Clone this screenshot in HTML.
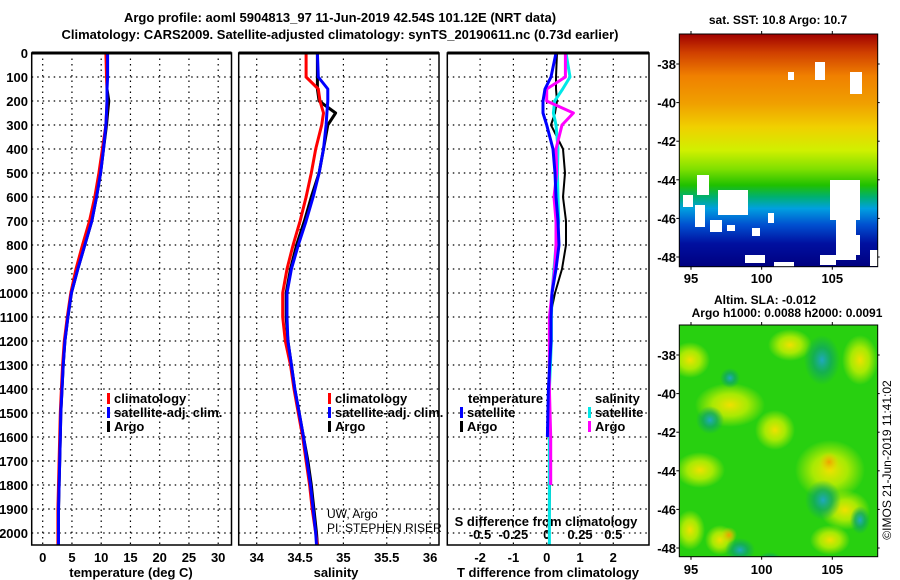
<!DOCTYPE html>
<html><head><meta charset="utf-8"><style>
body{margin:0;background:#fff;}
svg{display:block;font-family:"Liberation Sans",Arial,sans-serif;}
</style></head><body>
<svg id="fig" width="900" height="580" viewBox="0 0 900 580">
<defs>
<linearGradient id="sst" x1="0" y1="0" x2="0" y2="1">
<stop offset="0" stop-color="#a00000"/><stop offset="0.08" stop-color="#d04000"/>
<stop offset="0.18" stop-color="#f08000"/><stop offset="0.3" stop-color="#f0a000"/>
<stop offset="0.4" stop-color="#f0d000"/><stop offset="0.5" stop-color="#d0f000"/>
<stop offset="0.58" stop-color="#80e000"/><stop offset="0.65" stop-color="#20c000"/>
<stop offset="0.7" stop-color="#00b070"/><stop offset="0.75" stop-color="#00a0e0"/>
<stop offset="0.82" stop-color="#0050d0"/><stop offset="0.9" stop-color="#0010a0"/>
<stop offset="1" stop-color="#000080"/></linearGradient>
<radialGradient id="yb"><stop offset="0" stop-color="#f0e000"/><stop offset="0.5" stop-color="#c8f000" stop-opacity="0.8"/><stop offset="1" stop-color="#c8f000" stop-opacity="0"/></radialGradient>
<radialGradient id="tb"><stop offset="0" stop-color="#20a8c0"/><stop offset="0.5" stop-color="#10a860" stop-opacity="0.8"/><stop offset="1" stop-color="#10a860" stop-opacity="0"/></radialGradient>
<radialGradient id="ob"><stop offset="0" stop-color="#f0a000"/><stop offset="1" stop-color="#f0d000" stop-opacity="0"/></radialGradient>
<clipPath id="clip1"><rect x="679.3" y="34" width="198.4" height="232.7"/></clipPath>
<clipPath id="clip2"><rect x="679.3" y="325" width="198.4" height="231.7"/></clipPath>
</defs>
<text x="340" y="22" text-anchor="middle" font-size="13" font-weight="bold">Argo profile: aoml 5904813_97 11-Jun-2019 42.54S 101.12E (NRT data)</text>
<text x="340" y="39" text-anchor="middle" font-size="13" font-weight="bold">Climatology: CARS2009. Satellite-adjusted climatology: synTS_20190611.nc (0.73d earlier)</text>
<g id="plots"></g>
<g id="maps"></g>
</svg>
<script>
// ---- data ----
const depthTicks = [0,100,200,300,400,500,600,700,800,900,1000,1100,1200,1300,1400,1500,1600,1700,1800,1900,2000];
const tTicks = [0,5,10,15,20,25,30];
const sTicks = [34,34.5,35,35.5,36];
const sTickLabels = ["34","34.5","35","35.5","36"];
const dTicks = [-2,-1,0,1,2];
const dSTickLabels = ["-0.5","-0.25","0","0.25","0.5"];
const dSTickVals = [-0.5,-0.25,0,0.25,0.5];

const depths = [0,100,150,200,250,300,400,500,600,700,800,900,1000,1100,1200,1300,1400,1500,1600,1700,1800,1900,2000,2050];
const tempClim = [10.8,10.9,11.0,11.0,10.9,10.8,10.2,9.6,8.9,8.0,6.8,5.7,4.8,4.2,3.7,3.4,3.2,3.0,2.9,2.8,2.7,2.6,2.6,2.6];
const tempSat  = [11.1,11.1,11.0,11.0,10.9,10.8,10.4,9.9,9.2,8.4,7.2,6.0,4.9,4.3,3.8,3.5,3.3,3.1,3.0,2.9,2.8,2.7,2.7,2.7];
const tempArgo = [11.0,11.0,11.0,11.3,11.1,10.9,10.4,9.9,9.2,8.4,7.2,6.0,4.9,4.3,3.8,3.5,3.3,3.1,3.0,2.9,2.8,2.7,2.7,2.7];
const salClim  = [34.57,34.57,34.71,34.73,34.77,34.75,34.68,34.63,34.57,34.50,34.42,34.35,34.30,34.30,34.33,34.39,34.43,34.48,34.53,34.57,34.61,34.64,34.68,34.70];
const salSat   = [34.70,34.71,34.82,34.82,34.81,34.80,34.77,34.72,34.65,34.57,34.48,34.40,34.35,34.35,34.36,34.40,34.44,34.49,34.54,34.58,34.62,34.65,34.68,34.69];
const salArgo  = [34.70,34.70,34.70,34.72,34.91,34.82,34.77,34.72,34.63,34.55,34.46,34.39,34.34,34.34,34.36,34.40,34.44,34.49,34.54,34.59,34.63,34.66,34.69,34.70];
const diffDepths = [0,100,150,200,250,300,400,500,600,700,800,900,1000,1100,1200,1400,1600,1800,2000,2050];
const dTSat  = [0.28,0.13,-0.05,-0.11,-0.11,0.0,0.19,0.25,0.28,0.34,0.37,0.28,0.16,0.13,0.13,0.05,0.02,null,null,null];
const dTArgo = [0.31,0.28,0.28,0.31,0.25,0.13,0.49,0.55,0.49,0.58,0.58,0.46,0.25,0.10,0.07,0.09,0.10,0.10,0.08,0.08];
const dSSat  = [0.145,0.175,0.12,0.06,0.05,0.07,0.085,0.08,0.085,0.09,0.07,0.055,0.04,0.035,0.035,0.02,0.02,0.02,0.02,0.02];
const dSArgo = [0.14,0.14,0.0,0.0,0.2,0.115,0.07,0.075,0.055,0.07,0.07,0.06,0.04,0.02,0.02,0.02,0.03,0.03,null,null];

// ---- axes ----
const Y0=53, Y1=533, YB=545;
const yD = d => Y0 + (d/2000)*(Y1-Y0);
const xT = t => 42.7 + t*5.85;
const xS = s => 256.7 + (s-34)*86.7;
const xDT = v => 546.7 + v*33.3;
const xDS = v => 546.7 + v*133.3;
const NS="http://www.w3.org/2000/svg";
const G=document.getElementById('plots');
function mk(tag,attrs,parent){const e=document.createElementNS(NS,tag);for(const k in attrs)e.setAttribute(k,attrs[k]);(parent||G).appendChild(e);return e;}
function txt(x,y,s,size,anchor,bold,parent){const e=mk('text',{x:x,y:y,'font-size':size,'text-anchor':anchor||'start'},parent);if(bold)e.setAttribute('font-weight','bold');e.textContent=s;return e;}

const panels=[{x0:31.7,x1:231.5,name:'temperature'},{x0:238.7,x1:439,name:'salinity'},{x0:447.3,x1:649,name:'difference'}];
panels.forEach((p,i)=>{
  const g=mk('g',{});
  
  
  mk('rect',{x:p.x0,y:Y0,width:p.x1-p.x0,height:YB-Y0,fill:'#fff'},g);
  depthTicks.forEach(d=>{ if(d>0) mk('line',{x1:p.x0,x2:p.x1,y1:yD(d),y2:yD(d),stroke:'#000','stroke-width':1.2,'stroke-dasharray':'1.5,4'},g);});
  p.g=g;
});
depthTicks.forEach(d=>{const t=txt(28,yD(d)+5,String(d),13,'end',true);
  
  });
function vgrid(p,ticks,fx,labels,ly){ticks.forEach((v,j)=>{const x=fx(v);
  mk('line',{x1:x,x2:x,y1:Y0,y2:YB,stroke:'#000','stroke-width':1.2,'stroke-dasharray':'1.5,4'},p.g);
  const t=txt(x,ly,labels[j],13,'middle',true);
  
  });}
vgrid(panels[0],tTicks,xT,tTicks.map(String),562);
vgrid(panels[1],sTicks,xS,sTickLabels,562);
vgrid(panels[2],dTicks,xDT,dTicks.map(String),562);
dSTickVals.forEach((v,j)=>{const t=txt(xDS(v),539,dSTickLabels[j],13,'middle',true);
  
  });
let t;
t=txt(546,526,'S difference from climatology',13,'middle',true);

t=txt(131,577,'temperature (deg C)',13,'middle',true);

t=txt(336,577,'salinity',13,'middle',true);

t=txt(548,577,'T difference from climatology',13,'middle',true);

t=txt(327,518,'UW, Argo',12,'start',false);

t=txt(327,532,'PI: STEPHEN RISER',12,'start',false);


function line(ds,vals,fx,color,name,w){let pts=[];ds.forEach((d,i)=>{if(vals[i]!==null)pts.push(fx(vals[i]).toFixed(1)+','+yD(d).toFixed(1));});
  const e=mk('polyline',{points:pts.join(' '),fill:'none',stroke:color,'stroke-width':w||3,'stroke-linejoin':'round'});
  
  }
line(depths,tempArgo,xT,'#000','temp-argo-line');
line(depths,tempClim,xT,'#f00','temp-clim-line');
line(depths,tempSat,xT,'#00f','temp-sat-line');
line(depths,salArgo,xS,'#000','sal-argo-line');
line(depths,salClim,xS,'#f00','sal-clim-line');
line(depths,salSat,xS,'#00f','sal-sat-line');
line(diffDepths,dTArgo,xDT,'#000','tdiff-argo-line',2);
line(diffDepths,dSSat,xDS,'#00e8e8','sdiff-sat-line');
line(diffDepths,dSArgo,xDS,'#f0f','sdiff-argo-line');
line(diffDepths,dTSat,xDT,'#00f','tdiff-sat-line');
panels.forEach(p=>{const r=mk('rect',{x:p.x0,y:Y0,width:p.x1-p.x0,height:YB-Y0,fill:'none',stroke:'#000','stroke-width':1.5});
  });
panels.forEach(p=>mk('line',{x1:p.x0,x2:p.x1,y1:Y0,y2:Y0,stroke:'#000','stroke-width':3}));
function leg(x,y,c,s){const g=mk('g',{});
  
  
  mk('rect',{x:x,y:y-10,width:3,height:11,fill:c},g);txt(x+7,y,s,13,'start',true,g);}
leg(107,403,'#f00','climatology');leg(107,417,'#00f','satellite-adj. clim.');leg(107,431,'#000','Argo');
leg(328,403,'#f00','climatology');leg(328,417,'#00f','satellite-adj. clim.');leg(328,431,'#000','Argo');
t=txt(468,403,'temperature',13,'start',true);
t=txt(595,403,'salinity',13,'start',true);
leg(460,417,'#00f','satellite');leg(460,431,'#000','Argo');
leg(588,417,'#00e8e8','satellite');leg(588,431,'#f0f','Argo');

// ---- maps ----
const M=document.getElementById('maps');
const MX0=679.3,MX1=877.7;
const lonTicks=[95,100,105];
const latTicks=[-38,-40,-42,-44,-46,-48];
const xLon=l=>691+(l-95)*14.13;
const g1=mk('g',{'clip-path':'url(#clip1)'},M);


mk('rect',{x:MX0,y:34,width:MX1-MX0,height:232.7,fill:'url(#sst)'},g1);
const white1=[[697,175,12,20],[718,190,30,25],[710,220,12,12],[683,195,10,12],[695,205,10,22],[830,180,30,40],[836,210,20,50],[848,235,12,20],[820,255,16,10],[745,255,20,8],[815,62,10,18],[850,72,12,22],[788,72,6,8],[870,250,8,16],[752,228,8,8],[768,213,6,10],[727,225,8,6],[774,262,20,6]];
white1.forEach(r=>mk('rect',{x:r[0],y:r[1],width:r[2],height:r[3],fill:'#fff'},g1));
const fr1=mk('rect',{x:MX0,y:34,width:MX1-MX0,height:232.7,fill:'none',stroke:'#000','stroke-width':1},M);
t=txt(778,24,'sat. SST: 10.8 Argo: 10.7',12,'middle',true,M);

const g2=mk('g',{'clip-path':'url(#clip2)'},M);


mk('rect',{x:MX0,y:325,width:MX1-MX0,height:231.7,fill:'#28d010'},g2);
const yb=[[730,405,35,22],[690,360,20,18],[830,470,35,30],[790,345,22,16],[700,470,25,18],[830,540,20,15],[720,540,15,15],[775,430,20,20],[860,360,18,25],[690,530,15,20],[845,510,25,20]];
yb.forEach(b=>mk('ellipse',{cx:b[0],cy:b[1],rx:b[2],ry:b[3],fill:'url(#yb)'},g2));
const tb=[[822,360,18,25],[823,500,18,20],[740,550,15,12],[710,420,14,14],[860,520,10,14],[730,378,10,10],[770,560,12,8]];
tb.forEach(b=>mk('ellipse',{cx:b[0],cy:b[1],rx:b[2],ry:b[3],fill:'url(#tb)'},g2));
mk('ellipse',{cx:729,cy:535,rx:8,ry:8,fill:'url(#ob)'},g2);
mk('ellipse',{cx:829,cy:462,rx:10,ry:10,fill:'url(#ob)'},g2);
mk('rect',{x:MX0,y:325,width:MX1-MX0,height:231.7,fill:'none',stroke:'#000','stroke-width':1},M);
t=txt(765,304,'Altim. SLA: -0.012',12,'middle',true,M);

t=txt(787,317,'Argo h1000: 0.0088 h2000: 0.0091',12,'middle',true,M);

[[34,266.7,64,257,283],[325,556.7,355,548,574]].forEach(m=>{
  const yl=l=>m[2]+(-38-l)*(m[3]-m[2])/10;
  latTicks.forEach(l=>{const y=yl(l);
    mk('line',{x1:MX0-3,x2:MX0,y1:y,y2:y,stroke:'#000'},M);
    mk('line',{x1:MX1,x2:MX1+2,y1:y,y2:y,stroke:'#000'},M);
    const tt=txt(676,y+5,String(l),13,'end',true,M);
    });
  lonTicks.forEach(l=>{const x=xLon(l);
    mk('line',{x1:x,x2:x,y1:m[1],y2:m[1]+3,stroke:'#000'},M);
    mk('line',{x1:x,x2:x,y1:m[0]-3,y2:m[0],stroke:'#000'},M);
    const tt=txt(x,m[4],String(l),13,'middle',true,M);
    });
});
t=txt(0,0,'©IMOS 21-Jun-2019 11:41:02',12,'middle',false,M);
t.setAttribute('transform','translate(891,460) rotate(-90)');

</script>
</body></html>
